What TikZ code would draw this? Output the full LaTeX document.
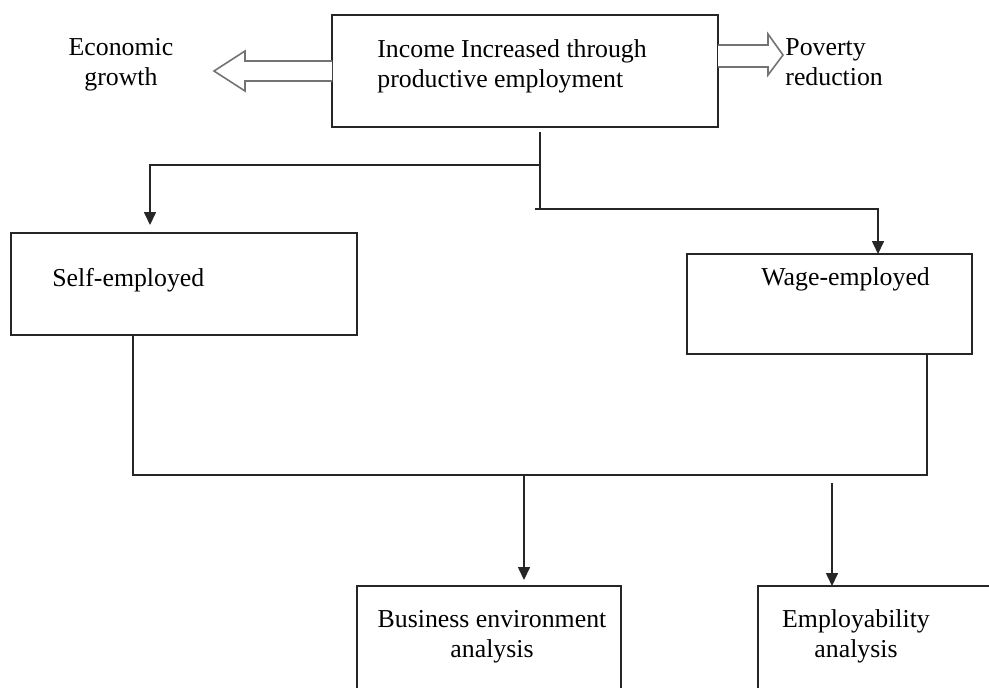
\documentclass[tikz,border=0pt]{standalone}
\usepackage{fontspec}
\setmainfont{Liberation Serif}
\usetikzlibrary{arrows.meta,positioning}

\begin{document}
\begin{tikzpicture}[x=0.5pt,y=-0.5pt,
    box/.style={draw=black!85,line width=0.8pt,anchor=north west,inner sep=0pt,outer sep=0pt},
    txt/.style={font=\fontsize{12.9}{15}\selectfont,inner sep=0pt,anchor=base west,align=left},
    conn/.style={draw=black!85,line width=0.8pt},
    arr/.style={conn,-{Triangle[length=6.5pt,width=6pt]}},
    hollow/.style={draw=black!55,line width=0.8pt,fill=white,line join=miter}]
    \useasboundingbox (0,0) rectangle (989,687);
    \clip (0,0) rectangle (989,687);
    \node[box,minimum width=193pt,minimum height=56pt] (income) at (332,15) {};
    \node[box,minimum width=173pt,minimum height=51pt] (selfemp) at (11,233) {};
    \node[box,minimum width=142.5pt,minimum height=50pt] (wageemp) at (687,254) {};
    \node[box,minimum width=132pt,minimum height=67pt] (business) at (357,586) {};
    \node[box,minimum width=136pt,minimum height=67pt] (employ) at (758,586) {};
    \node[txt] (incometxt) at (377,87) {Income Increased through\\productive employment};
    \node[txt,align=center,anchor=base] (growth) at (121,85) {Economic\\growth};
    \node[txt] (poverty) at (785,85) {Poverty\\reduction};
    \node[txt] (selftxt) at (52,286) {Self-employed};
    \node[txt] (wagetxt) at (761,285) {Wage-employed};
    \node[txt,align=center,anchor=base] (businesstxt) at (492,657) {Business environment\\analysis};
    \node[txt,align=center,anchor=base] (employtxt) at (856,657) {Employability\\analysis};
    \draw[hollow] ([yshift=5pt]income.west) -- (245,61) -- (245,51) -- (214,71) -- (245,91) -- (245,81) -- ([yshift=-5pt]income.west);
    \draw[hollow] ([yshift=13pt]income.east) -- (768,45) -- (768,34) -- (783,55) -- (768,75) -- (768,67) -- ([yshift=2pt]income.east);
    \coordinate (split) at (540,209);
    \coordinate (branch) at (540,165);
    \coordinate (merge) at (524,475);
    \coordinate (gapstart) at (832,483);
    \draw[conn] ([xshift=7.5pt,yshift=-2.5pt]income.south) -- (split);
    \draw[arr] (branch) -| ([xshift=-17pt,yshift=4pt]selfemp.north);
    \draw[arr] ([xshift=-2.5pt]split) -| ([xshift=24.25pt]wageemp.north);
    \draw[conn] ([xshift=-25.5pt]selfemp.south) |- (merge) -| ([xshift=48.75pt]wageemp.south);
    \draw[arr] (merge) -- ([xshift=17.5pt,yshift=3pt]business.north);
    \draw[arr] (gapstart) -- (gapstart |- employ.north);
\end{tikzpicture}
\end{document}
